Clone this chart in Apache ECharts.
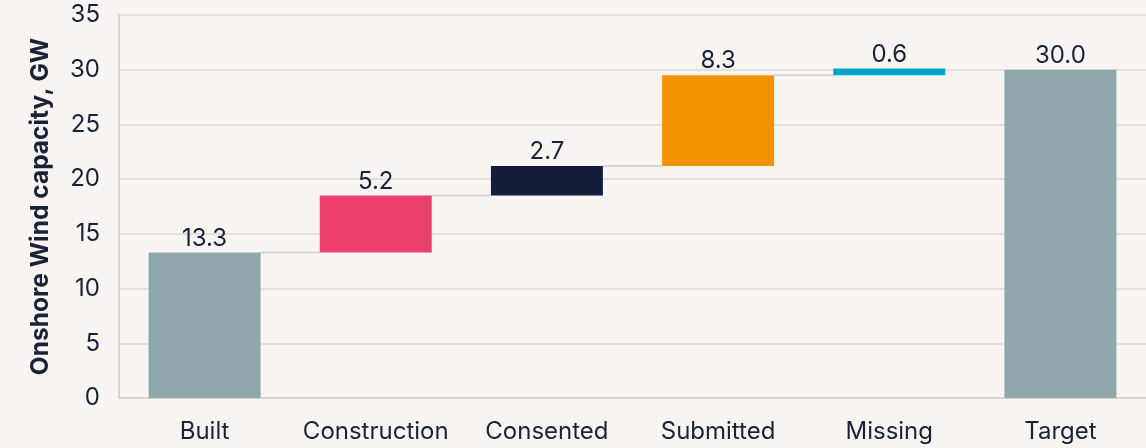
<!DOCTYPE html>
<html>
<head>
<meta charset="utf-8">
<script src="https://cdn.jsdelivr.net/npm/echarts@6/dist/echarts.min.js"></script>
<style>
html,body{margin:0;padding:0;background:#f7f4f1;}
#c{width:1146px;height:448px;}
</style>
</head>
<body>
<div id="c"></div>
<script>
const categories = ['Built', 'Construction', 'Consented', 'Submitted', 'Missing', 'Target'];
const values = [13.3, 5.2, 2.7, 8.3, 0.6, 30.0];
const isTotal = [true, false, false, false, false, true];
const colors = ['#8fa7ab', '#eb3f6e', '#131d38', '#f39200', '#00a3c8', '#8fa7ab'];
const yTicks = { min: 0, max: 35, interval: 5 };

// compute floating bases
const bases = [];
let run = 0;
values.forEach((v, i) => {
  if (isTotal[i]) { bases.push(0); run = v; }
  else { bases.push(run); run += v; }
});
const tops = values.map((v, i) => bases[i] + v);
// connectors between consecutive bars (skip into final total)
const connectors = [];
for (let i = 0; i < categories.length - 2; i++) connectors.push([i, tops[i]]);

const textColor = '#1a2238';
const chart = echarts.init(document.getElementById('c'));
chart.setOption({
  backgroundColor: '#f7f4f1',
  animation: false,
  grid: { left: 119, right: 0, top: 15, bottom: 50 },
  xAxis: {
    type: 'category',
    data: categories,
    axisLine: { lineStyle: { color: '#d6d6d6', width: 2 } },
    axisTick: { show: false },
    axisLabel: { color: textColor, fontSize: 24, fontFamily: 'Inter', margin: 22, interval: 0, hideOverlap: false }
  },
  yAxis: {
    type: 'value',
    min: yTicks.min, max: yTicks.max, interval: yTicks.interval,
    name: 'Onshore Wind capacity, GW',
    nameLocation: 'middle',
    nameGap: 66,
    nameTextStyle: { color: textColor, fontSize: 24.5, fontWeight: 'bold', fontFamily: 'Inter' },
    axisLine: { show: true, lineStyle: { color: '#d6d6d6', width: 2 } },
    axisTick: { show: false },
    axisLabel: { color: textColor, fontSize: 24, fontFamily: 'Inter', margin: 19 },
    splitLine: { lineStyle: { color: '#dadada', width: 1.5 } }
  },
  series: [
    {
      type: 'bar', stack: 'w', barWidth: '65.4%',
      data: bases,
      itemStyle: { color: 'transparent' },
      silent: true
    },
    {
      type: 'bar', stack: 'w', barWidth: '65.4%',
      data: values.map((v, i) => ({ value: v, itemStyle: { color: colors[i] } })),
      label: {
        show: true, position: 'top', distance: 2,
        color: textColor, fontSize: 24, fontFamily: 'Inter',
        formatter: p => Number(p.value).toFixed(1)
      }
    },
    {
      type: 'custom',
      data: connectors,
      z: 1,
      renderItem: (params, api) => {
        const i = api.value(0);
        const y = api.value(1);
        const band = api.size([1, 0])[0];
        const half = band * 0.654 / 2;
        const p1 = api.coord([i, y]);
        const p2 = api.coord([i + 1, y]);
        return {
          type: 'line',
          shape: { x1: p1[0] + half, y1: p1[1], x2: p2[0] - half, y2: p2[1] },
          style: { stroke: '#d6d6d6', lineWidth: 2 }
        };
      }
    }
  ]
});
</script>
</body>
</html>
